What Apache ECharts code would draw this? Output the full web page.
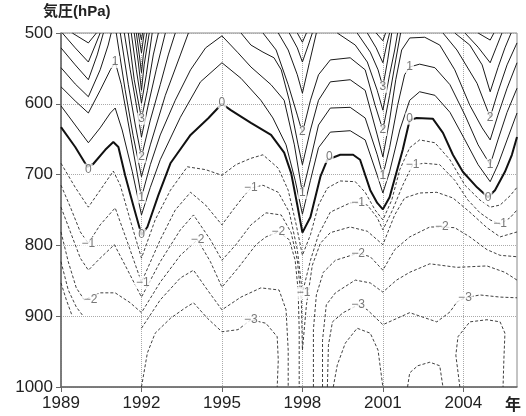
<!DOCTYPE html>
<html>
<head>
<meta charset="utf-8">
<script src="https://cdn.jsdelivr.net/npm/echarts@6/dist/echarts.min.js"></script>
<style>html,body{margin:0;padding:0;background:#fff}#chart{width:526px;height:416px}</style>
</head>
<body>
<div id="chart"></div>
<script>
const xTicks = [1989, 1992, 1995, 1998, 2001, 2004];
const yTicks = [500, 600, 700, 800, 900, 1000];

// contour segments, points are [year, hPa]
const lvP55 = [[[1991.94,500],[1992,510],[1992.04,500]]];
const lvP50 = [[[1991.88,500],[1992,528],[1992.1,500]]];
const lvP45 = [[[1991.81,500],[1991.92,531],[1992,556],[1992.07,531],[1992.2,500]]];
const lvP40 = [
  [[1991.73,500],[1991.88,541],[1992,581],[1992.1,545],[1992.29,500]],
  [[2000.75,500],[2001,511],[2001.1,500]]
];
const lvP35 = [
  [[1991.62,500],[1991.81,552],[1992,599],[1992.18,559],[1992.4,500]],
  [[1997.81,500],[1998,513],[1998.15,500]],
  [[2000.42,500],[2000.75,521],[2001,542],[2001.14,517],[2001.25,500]],
  [[2004.55,500],[2005,510],[2005.14,500]]
];
const lvP30 = [
  [[1989.42,500],[1990.02,514],[1990.32,500]],
  [[1991.51,500],[1991.73,566],[1992,621],[1992.22,581],[1992.44,531],[1992.63,500]],
  [[1997.51,500],[1997.81,521],[1998,541],[1998.22,517],[1998.37,500]],
  [[2000.04,500],[2000.53,527],[2000.82,552],[2001,576],[2001.18,538],[2001.33,500]],
  [[2004.06,500],[2004.55,520],[2005,542],[2005.22,521],[2005.44,500]]
];
const lvP25 = [
  [[1989.05,500],[1989.53,521],[1990.02,541],[1990.28,517],[1990.46,500]],
  [[1991.36,500],[1991.58,552],[1991.81,602],[1992,647],[1992.25,602],[1992.55,552],[1992.89,500]],
  [[1997.1,500],[1997.47,524],[1997.81,559],[1998,585],[1998.26,542],[1998.52,500]],
  [[1999.3,500],[1999.97,517],[2000.42,541],[2000.79,581],[2001,609],[2001.25,559],[2001.44,524],[2001.55,500]],
  [[2003.68,500],[2004.24,517],[2004.7,545],[2005,583],[2005.29,549],[2005.55,521],[2005.78,500]]
];
const lvP20 = [
  [[1989,521],[1989.53,545],[1990.02,566],[1990.35,531],[1990.58,500]],
  [[1991.21,500],[1991.51,573],[1991.77,630],[1992,675],[1992.33,623],[1992.7,573],[1993,531],[1993.26,500]],
  [[1996.53,500],[1997.02,524],[1997.47,573],[1997.81,616],[1998,641],[1998.3,595],[1998.6,559],[1999.04,538],[1999.78,535],[2000.34,552],[2000.71,602],[2001,637],[2001.25,588],[2001.48,538],[2001.66,500]],
  [[2003.24,500],[2003.76,524],[2004.51,571],[2005,619],[2005.29,583],[2005.63,545],[2006,514]]
];
const lvP15 = [
  [[1989,549],[1989.53,572],[1990.02,590],[1990.46,552],[1990.76,517],[1990.87,500]],
  [[1991.06,500],[1991.39,580],[1991.69,645],[1992,703],[1992.33,658],[1992.89,588],[1993.45,531],[1993.75,500]],
  [[1995.71,500],[1996.08,517],[1996.53,527],[1996.94,535],[1997.21,552],[1997.51,595],[1997.84,658],[1998,686],[1998.3,637],[1998.6,595],[1999.04,569],[1999.78,566],[2000.34,581],[2000.79,644],[2001,675],[2001.25,623],[2001.48,566],[2001.7,524],[2002,507],[2002.56,506],[2003.12,517],[2003.68,552],[2004.24,602],[2004.7,634],[2005,651],[2005.29,616],[2005.63,578],[2006,542]]
];
const lvP10 = [
  [[1989,576],[1989.53,596],[1990.02,613],[1990.46,581],[1990.84,552],[1991.02,541],[1991.25,573],[1991.62,651],[1992,732],[1992.33,686],[1992.7,644],[1993.26,595],[1993.83,552],[1994.39,521],[1995,504],[1995.6,528],[1996.08,548],[1996.83,573],[1997.32,595],[1997.7,658],[1998,726],[1998.3,679],[1998.6,630],[1999.04,606],[1999.78,605],[2000.34,620],[2000.79,672],[2001,701],[2001.25,662],[2001.55,602],[2001.81,559],[2002,548],[2002.37,544],[2002.94,549],[2003.5,573],[2004.06,616],[2004.55,658],[2005,686],[2005.29,651],[2005.63,612],[2006,578]]
];
const lvP05 = [
  [[1989,603],[1989.53,630],[1990.02,655],[1990.46,634],[1990.84,613],[1991.02,606],[1991.28,637],[1991.66,696],[1992,757],[1992.33,718],[1992.7,679],[1993.45,619],[1994.2,569],[1995,542],[1995.71,564],[1996.45,595],[1996.9,620],[1997.39,658],[1997.73,708],[1998,756],[1998.3,708],[1998.6,662],[1999.04,640],[1999.78,638],[2000.34,651],[2000.79,701],[2001,726],[2001.25,696],[2001.63,637],[2002,595],[2002.37,583],[2002.94,588],[2003.5,612],[2004.06,651],[2004.55,686],[2005,710],[2005.29,686],[2005.63,651],[2006,613]]
];
const lvZero = [
  [[1989,633],[1989.53,661],[1989.98,689],[1990.2,685],[1990.65,665],[1990.95,654],[1991.14,661],[1991.39,701],[1991.69,743],[1992,785],[1992.22,774],[1992.63,729],[1993.08,684],[1993.83,644],[1994.5,620],[1995,600],[1995.33,609],[1996.08,627],[1996.83,644],[1997.32,669],[1997.58,698],[1997.81,743],[1998,782],[1998.3,760],[1998.67,703],[1998.93,679],[1999.41,672],[1999.89,672],[2000.15,679],[2000.53,722],[2000.79,740],[2001,749],[2001.25,732],[2001.74,665],[2002,623],[2002.26,620],[2002.86,621],[2003.24,641],[2003.61,672],[2003.98,696],[2004.51,718],[2004.92,732],[2005.18,722],[2005.55,696],[2005.81,672],[2006,647]]
];
const lvM05 = [
  [[1989,684],[1989.53,718],[1990.02,746],[1990.46,722],[1990.95,695],[1991.21,715],[1991.58,764],[1992,818],[1992.51,764],[1993.08,722],[1993.71,689],[1994.39,693],[1995,701],[1995.52,686],[1996.08,677],[1996.53,672],[1997.1,691],[1997.47,722],[1997.77,771],[1998,814],[1998.3,785],[1998.6,743],[1998.93,719],[1999.41,709],[1999.97,710],[2000.34,725],[2000.71,750],[2001,764],[2001.33,736],[2001.63,693],[2002,662],[2002.37,651],[2002.94,655],[2003.5,679],[2004.06,715],[2004.62,736],[2005,746],[2005.37,743],[2005.74,730],[2006,718]]
];
const lvM10 = [
  [[1989,715],[1989.35,746],[1989.72,781],[1990.02,797],[1990.46,771],[1991.02,747],[1991.51,799],[1992,852],[1992.7,792],[1993.26,750],[1993.83,725],[1994.39,743],[1995,771],[1995.41,750],[1995.78,732],[1996.08,719],[1996.53,715],[1997.1,725],[1997.51,753],[1997.81,806],[1998,867],[1998.3,821],[1998.6,785],[1999.04,753],[1999.78,740],[2000.08,740],[2000.42,743],[2000.79,761],[2001,778],[2001.36,750],[2001.74,715],[2002.11,686],[2002.56,684],[2003.12,686],[2003.68,708],[2004.17,736],[2004.62,754],[2005,764],[2005.37,770],[2005.74,761],[2006,750]]
];
const lvM15 = [
  [[1989,746],[1989.35,781],[1989.72,818],[1990.02,835],[1990.46,818],[1990.99,799],[1991.39,828],[1992,873],[1992.7,823],[1993.45,778],[1993.94,757],[1994.57,792],[1995,821],[1995.52,799],[1996.08,771],[1996.64,754],[1997.21,757],[1997.58,782],[1997.81,821],[1997.96,877],[1998,948],[1998.15,884],[1998.37,828],[1998.67,797],[1999.04,782],[1999.78,774],[2000.42,780],[2001,799],[2001.44,757],[2001.81,733],[2002.37,726],[2003.01,725],[2003.61,733],[2004.24,753],[2004.88,775],[2005.37,788],[2006,781]]
];
const lvM20 = [
  [[1989,781],[1989.27,823],[1989.57,860],[1989.87,877],[1990.46,867],[1991.02,867],[1991.58,881],[1992,895],[1992.7,852],[1993.45,814],[1994.09,792],[1994.57,823],[1995,859],[1995.6,832],[1996.27,799],[1996.64,788],[1997.1,781],[1997.51,792],[1997.73,821],[1997.84,863],[1997.88,919],[1997.88,1000]],
  [[1998.41,1000],[1998.41,919],[1998.52,870],[1998.78,838],[1999.23,821],[2000.08,811],[2000.53,816],[2001,835],[2001.44,806],[2002,788],[2002.75,774],[2003.2,774],[2003.68,775],[2004.24,788],[2004.88,806],[2005.37,814],[2006,816]]
];
const lvM25 = [
  [[1989,823],[1989.27,863],[1989.57,887],[1989.83,900]],
  [[1992,917],[1992.7,877],[1993.45,846],[1993.94,835],[1994.46,863],[1995,891],[1995.71,873],[1996.45,860],[1997.13,863],[1997.39,891],[1997.47,948],[1997.47,1000]],
  [[1998.75,1000],[1998.75,934],[1998.89,884],[1999.23,867],[1999.97,849],[2000.53,853],[2001,866],[2001.51,849],[2002,838],[2002.75,826],[2003.76,831],[2004.88,829],[2005.55,838],[2006,849]]
];
const lvM30 = [
  [[1989,853],[1989.2,877],[1989.42,900]],
  [[1992,1000],[1992.22,952],[1992.51,924],[1993.08,903],[1993.64,888],[1993.94,881],[1994.46,903],[1995,922],[1995.6,919],[1996.08,905],[1996.64,910],[1997.06,929],[1997.1,962],[1997.06,1000]],
  [[1998.93,1000],[1998.97,941],[1999.12,908],[1999.52,895],[2000.08,884],[2000.42,891],[2001,912],[2002,895],[2003.01,908],[2003.5,894],[2003.76,880],[2004.06,874],[2004.62,870],[2005.37,873],[2006,874]]
];
const lvM35 = [
  [[1999.15,1000],[1999.3,969],[1999.6,938],[2000.04,917],[2000.53,924],[2000.82,948],[2001,1000]],
  [[2001.92,1000],[2002,980],[2002.3,970],[2002.75,965],[2003.12,970],[2003.24,1000]],
  [[2003.87,1000],[2003.72,955],[2003.8,929],[2004.24,908],[2004.88,905],[2005.37,908],[2005.55,924],[2005.51,962],[2005.48,1000]]
];

// contour labels: [year, hPa, text]
const labelPts = [
  [1991.02,541,'1'],[1992,621,'3'],[1992,675,'2'],[1992,732,'1'],[1992,785,'0'],
  [1990.02,693,'0'],[1995,598,'0'],[1998,640,'2'],[1998,726,'1'],[1999,675,'0'],
  [2001,576,'3'],[2001,637,'2'],[2001,701,'1'],[2002,548,'1'],[2002,621,'0'],
  [2005,619,'2'],[2005,686,'1'],[2004.92,733,'0'],
  [1990.02,797,'−1'],[1990.1,877,'−2'],[1992.05,852,'−1'],[1994.09,792,'−2'],
  [1996.08,718,'−1'],[1997.1,781,'−2'],[1996.08,905,'−3'],[1998.04,867,'−1'],
  [2000.08,740,'−1'],[2000.08,811,'−2'],[2000.08,884,'−3'],[2002.11,686,'−1'],
  [2003.2,774,'−2'],[2005.37,770,'−1'],[2004.06,874,'−3']
];

const levels = [
  [5.5, lvP55], [5, lvP50], [4.5, lvP45], [4, lvP40], [3.5, lvP35], [3, lvP30],
  [2.5, lvP25], [2, lvP20], [1.5, lvP15], [1, lvP10], [0.5, lvP05], [0, lvZero],
  [-0.5, lvM05], [-1, lvM10], [-1.5, lvM15], [-2, lvM20], [-2.5, lvM25],
  [-3, lvM30], [-3.5, lvM35]
];

const chart = echarts.init(document.getElementById('chart'));

const series = [];
levels.forEach(([v, segs]) => {
  segs.forEach(seg => {
    let ls;
    if (v === 0) ls = { color: '#111', width: 2 };
    else if (v > 0) ls = { color: '#1a1a1a', width: 1 };
    else ls = { color: '#2a2a2a', width: 0.9, type: [3, 2] };
    series.push({
      type: 'line',
      data: seg,
      showSymbol: false,
      symbol: 'none',
      silent: true,
      lineStyle: ls,
      z: 3
    });
  });
});

series.push({
  type: 'scatter',
  symbol: 'circle',
  symbolSize: 1,
  itemStyle: { color: 'rgba(0,0,0,0)' },
  silent: true,
  z: 10,
  data: labelPts.map(d => ({ name: d[2], value: [d[0], d[1]] })),
  label: {
    show: true,
    position: 'inside',
    formatter: '{b}',
    fontSize: 12,
    color: '#555',
    backgroundColor: '#fff',
    padding: [0, 1],
    lineHeight: 12,
    fontFamily: 'Liberation Sans'
  }
});

chart.setOption({
  animation: false,
  textStyle: { fontFamily: 'Liberation Sans' },
  grid: { left: 61, top: 33, right: 9, bottom: 29, show: true, borderColor: '#888', borderWidth: 1 },
  xAxis: {
    type: 'value',
    min: 1989,
    max: 2006,
    interval: 3,
    axisLine: { show: true, lineStyle: { color: '#666', width: 1.5 } },
    axisTick: { show: true, inside: false, length: 5, lineStyle: { color: '#666' }, customValues: xTicks },
    axisLabel: {
      fontSize: 17, color: '#222', margin: 8, customValues: xTicks,
      formatter: v => (xTicks.indexOf(v) >= 0 ? String(v) : '')
    },
    splitLine: { show: true, lineStyle: { color: '#aaa', type: 'dotted', width: 1 } }
  },
  yAxis: {
    type: 'value',
    inverse: true,
    min: 500,
    max: 1000,
    interval: 100,
    axisLine: { show: true, lineStyle: { color: '#666', width: 1.5 } },
    axisTick: { show: true, inside: false, length: 5, lineStyle: { color: '#666' } },
    axisLabel: { fontSize: 17, color: '#222', margin: 8, formatter: v => String(v) },
    splitLine: { show: true, lineStyle: { color: '#aaa', type: 'dotted', width: 1 } }
  },
  graphic: [
    { type: 'text', left: 43, top: 4, style: { text: '気圧(hPa)', fontSize: 15, fontWeight: 'bold', fill: '#222', fontFamily: "'Liberation Sans','Noto Sans CJK JP'" } },
    { type: 'text', left: 505, top: 396, style: { text: '年', fontSize: 16, fontWeight: 'bold', fill: '#222', fontFamily: "'Noto Sans CJK JP'" } }
  ],
  series: series
});
</script>
</body>
</html>
